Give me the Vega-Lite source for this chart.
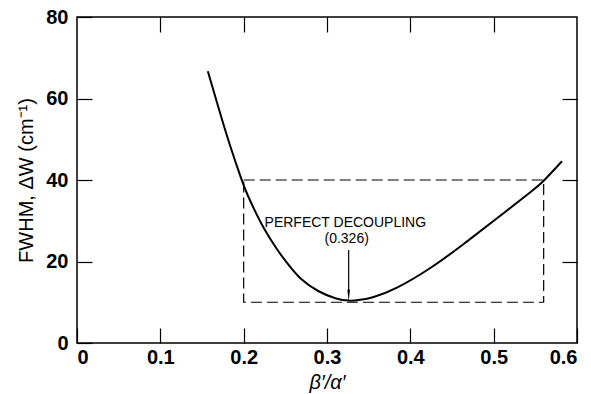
{
  "$schema": "https://vega.github.io/schema/vega-lite/v6.json",
  "autosize": {"type": "none"},
  "padding": {"left": 77, "top": 17, "right": 14, "bottom": 51},
  "width": 500,
  "height": 326,
  "background": "white",
  "config": {
    "view": {"stroke": "black", "strokeWidth": 1.5},
    "font": "Liberation Sans",
    "axis": {"grid": false, "domain": false, "tickColor": "black", "tickWidth": 1.2, "tickSize": -15, "labelColor": "black", "titleColor": "black", "labelFont": "Liberation Sans", "titleFont": "Liberation Sans"}
  },
  "datasets": {
    "curve": [
      {"r": 0.157, "w": 66.7},
      {"r": 0.170, "w": 57.6},
      {"r": 0.183, "w": 48.9},
      {"r": 0.197, "w": 40.4},
      {"r": 0.205, "w": 36.2},
      {"r": 0.215, "w": 31.8},
      {"r": 0.225, "w": 27.9},
      {"r": 0.239, "w": 23.3},
      {"r": 0.253, "w": 19.4},
      {"r": 0.269, "w": 15.7},
      {"r": 0.290, "w": 12.7},
      {"r": 0.310, "w": 11.0},
      {"r": 0.326, "w": 10.4},
      {"r": 0.340, "w": 10.6},
      {"r": 0.356, "w": 11.3},
      {"r": 0.384, "w": 13.6},
      {"r": 0.424, "w": 18.4},
      {"r": 0.464, "w": 24.3},
      {"r": 0.504, "w": 30.6},
      {"r": 0.544, "w": 37.0},
      {"r": 0.560, "w": 39.8},
      {"r": 0.582, "w": 44.6}
    ],
    "box": [{"x1": 0.2, "x2": 0.56, "y1": 10, "y2": 40}],
    "note": [
      {"x": 0.322, "y": 29.4, "label": "PERFECT DECOUPLING"},
      {"x": 0.3236, "y": 25.6, "label": "(0.326)"}
    ],
    "arrow": [{"x": 0.326, "y1": 22.8, "y2": 12.5, "tip": 11.66}]
  },
  "layer": [
    {
      "data": {"name": "box"},
      "mark": {"type": "rect", "fill": null, "stroke": "black", "strokeWidth": 1.2, "strokeDash": [11, 5]},
      "encoding": {
        "x": {"field": "x1", "type": "quantitative", "scale": {"domain": [0, 0.6], "nice": false},
          "axis": {"orient": "top", "values": [0.1, 0.2, 0.3, 0.4, 0.5], "labels": false, "title": null}},
        "x2": {"field": "x2"},
        "y": {"field": "y1", "type": "quantitative", "scale": {"domain": [0, 80], "nice": false},
          "axis": {"orient": "right", "values": [20, 40, 60], "labels": false, "title": null}},
        "y2": {"field": "y2"}
      }
    },
    {
      "data": {"name": "curve"},
      "mark": {"type": "line", "color": "black", "strokeWidth": 2, "interpolate": "natural"},
      "encoding": {
        "x": {"field": "r", "type": "quantitative", "scale": {"domain": [0, 0.6], "nice": false},
          "axis": {"orient": "bottom", "values": [0, 0.1, 0.2, 0.3, 0.4, 0.5, 0.6], "labelExpr": "datum.value == 0 ? '0' : format(datum.value, '.1f')", "labelFontSize": 20, "labelFontWeight": "bold", "labelPadding": 19, "title": "β′/α′", "titleFontSize": 20, "titleFontWeight": "normal", "titleFontStyle": "italic", "titlePadding": 5}},
        "y": {"field": "w", "type": "quantitative", "scale": {"domain": [0, 80], "nice": false},
          "axis": {"orient": "left", "values": [0, 20, 40, 60, 80], "labelFontSize": 20, "labelFontWeight": "bold", "labelPadding": 24, "title": "FWHM, ΔW (cm⁻¹)", "titleFontSize": 20, "titleFontWeight": "normal", "titlePadding": 9}}
      }
    },
    {
      "data": {"name": "arrow"},
      "mark": {"type": "rule", "color": "black", "strokeWidth": 1.2},
      "encoding": {
        "x": {"field": "x", "type": "quantitative", "axis": null},
        "y": {"field": "y1", "type": "quantitative", "axis": null},
        "y2": {"field": "y2"}
      }
    },
    {
      "data": {"name": "arrow"},
      "mark": {"type": "point", "shape": "M-0.22,-1L0,1L0.22,-1Z", "filled": true, "color": "black", "size": 144, "opacity": 1},
      "encoding": {
        "x": {"field": "x", "type": "quantitative", "axis": null},
        "y": {"field": "tip", "type": "quantitative", "axis": null}
      }
    },
    {
      "data": {"name": "note"},
      "mark": {"type": "text", "fontSize": 14, "color": "black", "align": "center", "baseline": "middle"},
      "encoding": {
        "x": {"field": "x", "type": "quantitative", "axis": null},
        "y": {"field": "y", "type": "quantitative", "axis": null},
        "text": {"field": "label"}
      }
    }
  ],
  "resolve": {"axis": {"x": "independent", "y": "independent"}}
}
